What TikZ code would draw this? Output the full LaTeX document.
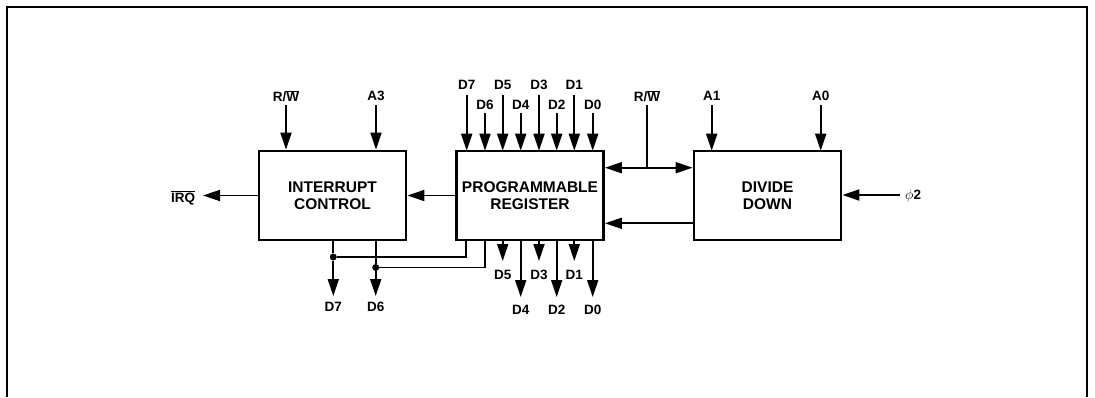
\documentclass[tikz,border=0pt]{standalone}
\usepackage{fontspec}
\setmainfont{Liberation Sans}
\usetikzlibrary{arrows.meta}
\begin{document}
\begin{tikzpicture}[x=1pt,y=-1pt,
  blk/.style={draw,line width=2.8pt,minimum width=147pt,minimum height=89pt,inner sep=0pt,align=center,font=\fontsize{15.5}{17}\selectfont\bfseries},
  lbl/.style={font=\fontsize{13.5}{14}\selectfont\bfseries,inner sep=0pt},
  wire/.style={line width=1.8pt},
  arr/.style={wire,-{Triangle[length=17pt,width=11pt]}},
  darr/.style={wire,{Triangle[length=17pt,width=11pt]}-{Triangle[length=17pt,width=11pt]}},
  dot/.style={circle,fill,inner sep=0pt,minimum size=7pt}]
\useasboundingbox (0,0) rectangle (1095,397);
\draw[line width=2pt] (6.5,397) -- (6.5,6.5) -- (1086.5,6.5) -- (1086.5,397);
% blocks
\node[blk] (ic) at (332.5,195.5) {INTERRUPT\\CONTROL};
\node[blk] (pr) at (530,195.5) {PROGRAMMABLE\\REGISTER};
\node[blk] (dd) at (767.5,195.5) {DIVIDE\\DOWN};
% interrupt control inputs
\node[lbl] (rw1) at (286,96) {R/\ensuremath{\overline{\hbox{W}}}};
\node[lbl] (a3) at (376,96) {A3};
\draw[arr] (rw1.south |- 0,105) -- (rw1.south |- ic.north);
\draw[arr] (a3.south |- 0,105) -- (a3.south |- ic.north);
% IRQ
\node[lbl] (irq) at (183,198) {\ensuremath{\overline{\hbox{IRQ}}}};
\draw[arr] (ic.west) -- (203,195.5) coordinate (irqe);
% prog reg -> ic
\draw[arr] (pr.west) -- (ic.east);
% top data inputs
\foreach \n/\x/\ly/\ay in {7/466.7/85/95,6/485/105/113,5/502.7/85/95,4/520.7/105/113,3/539/85/95,2/556.7/105/113,1/574.3/85/95,0/592.7/105/113}{
  \node[lbl] (ti\n) at (\x,\ly) {D\n};
  \draw[arr] (\x,\ay) -- (\x,150.7);
}
% bottom data outputs
\foreach \n/\x/\ay/\ly in {5/502.7/261/275,3/539/261/275,1/574.3/261/275,4/520.7/297/310,2/556.7/297/310,0/592.7/297/310}{
  \node[lbl] (bo\n) at (\x,\ly) {D\n};
  \draw[arr] (\x,240) -- (\x,\ay);
}
% D7 / D6 feedback
\node[dot] (j7) at (333.3,257) {};
\node[dot] (j6) at (375.7,267.5) {};
\draw[wire] (466,240) |- (j7);
\draw[wire] (485,240) |- (j6);
\draw[wire] (333.3,240) -- (j7);
\draw[wire] (375.7,240) -- (j6);
\node[lbl] (o7) at (333.3,307) {D7};
\node[lbl] (o6) at (375.7,307) {D6};
\draw[arr] (j7) -- (333.3,296);
\draw[arr] (j6) -- (375.7,296);
% R/W to divide down
\node[lbl] (rw2) at (647,96) {R/\ensuremath{\overline{\hbox{W}}}};
\coordinate (rwj) at (647,167.7);
\draw[wire] (647,105) -- (rwj);
\draw[darr] (pr.east |- rwj) -- (dd.west |- rwj);
\draw[arr] (dd.west |- 0,223.3) -- (pr.east |- 0,223.3);
% A1, A0
\node[lbl] (a1) at (711.7,96) {A1};
\node[lbl] (a0) at (820.7,96) {A0};
\draw[arr] (711.7,105) -- (711.7,150.7);
\draw[arr] (820.7,105) -- (820.7,150.7);
% phi2
\node[lbl,anchor=west] (phi) at (905,196) {$\phi$2};
\coordinate (phis) at (900,195);
\draw[arr] (phis) -- (dd.east |- phis);
\end{tikzpicture}
\end{document}
